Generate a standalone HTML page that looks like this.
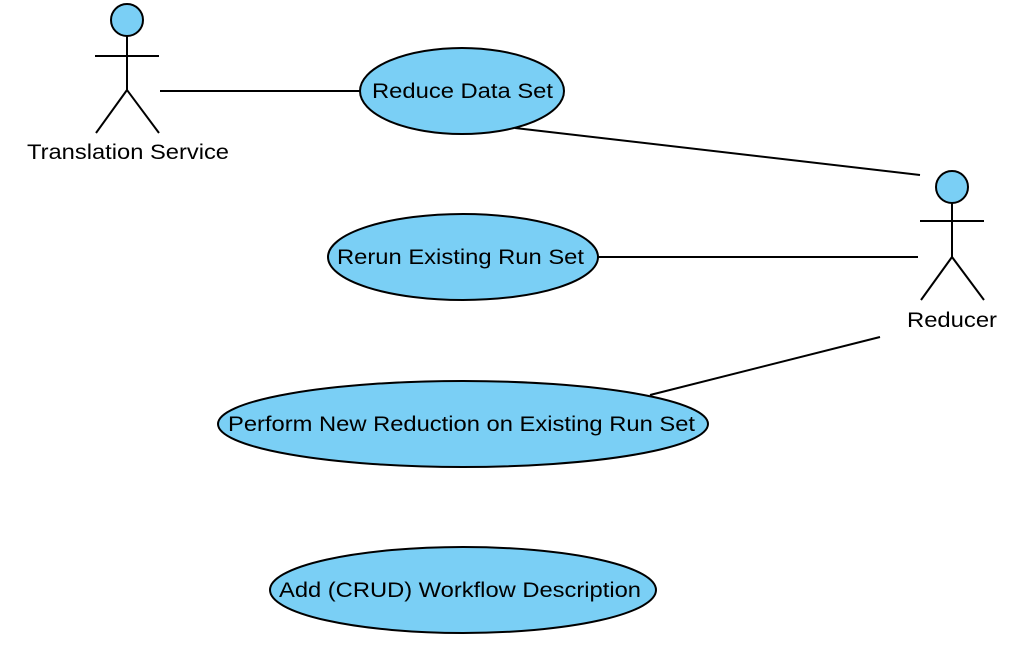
<!DOCTYPE html>
<html><head><style>body{margin:0;background:#fff}</style></head><body>
<svg width="1028" height="642" xmlns="http://www.w3.org/2000/svg" font-family="Liberation Sans, Arial, sans-serif" font-size="21">
<g stroke="#000" stroke-width="2" fill="none">
<line x1="160" y1="91" x2="360" y2="91"/>
<line x1="515" y1="128" x2="920" y2="175"/>
<line x1="598" y1="257" x2="918" y2="257"/>
<line x1="650" y1="395" x2="880" y2="337"/>
<line x1="127" y1="36" x2="127" y2="90"/><line x1="95" y1="56" x2="159" y2="56"/>
<polyline points="96,133 127,90 159,133"/>
<line x1="952" y1="203" x2="952" y2="257"/><line x1="920" y1="221" x2="984" y2="221"/>
<polyline points="921,300 952,257 984,300"/>
</g>
<g stroke="#000" stroke-width="2" fill="#7ACFF5">
<circle cx="127" cy="20" r="16"/>
<circle cx="952" cy="187" r="16"/>
<ellipse cx="462" cy="91" rx="102" ry="43"/>
<ellipse cx="463" cy="257" rx="135" ry="43"/>
<ellipse cx="463" cy="424" rx="245" ry="43"/>
<ellipse cx="463" cy="590" rx="193" ry="43"/>
</g>
<g fill="#000">
<text x="27" y="159" textLength="202" lengthAdjust="spacingAndGlyphs">Translation Service</text>
<text x="907" y="327" textLength="90" lengthAdjust="spacingAndGlyphs">Reducer</text>
<text x="372" y="98" textLength="181" lengthAdjust="spacingAndGlyphs">Reduce Data Set</text>
<text x="337" y="264" textLength="247" lengthAdjust="spacingAndGlyphs">Rerun Existing Run Set</text>
<text x="228" y="431" textLength="467" lengthAdjust="spacingAndGlyphs">Perform New Reduction on Existing Run Set</text>
<text x="279" y="597" textLength="362" lengthAdjust="spacingAndGlyphs">Add (CRUD) Workflow Description</text>
</g>
</svg>
</body></html>
